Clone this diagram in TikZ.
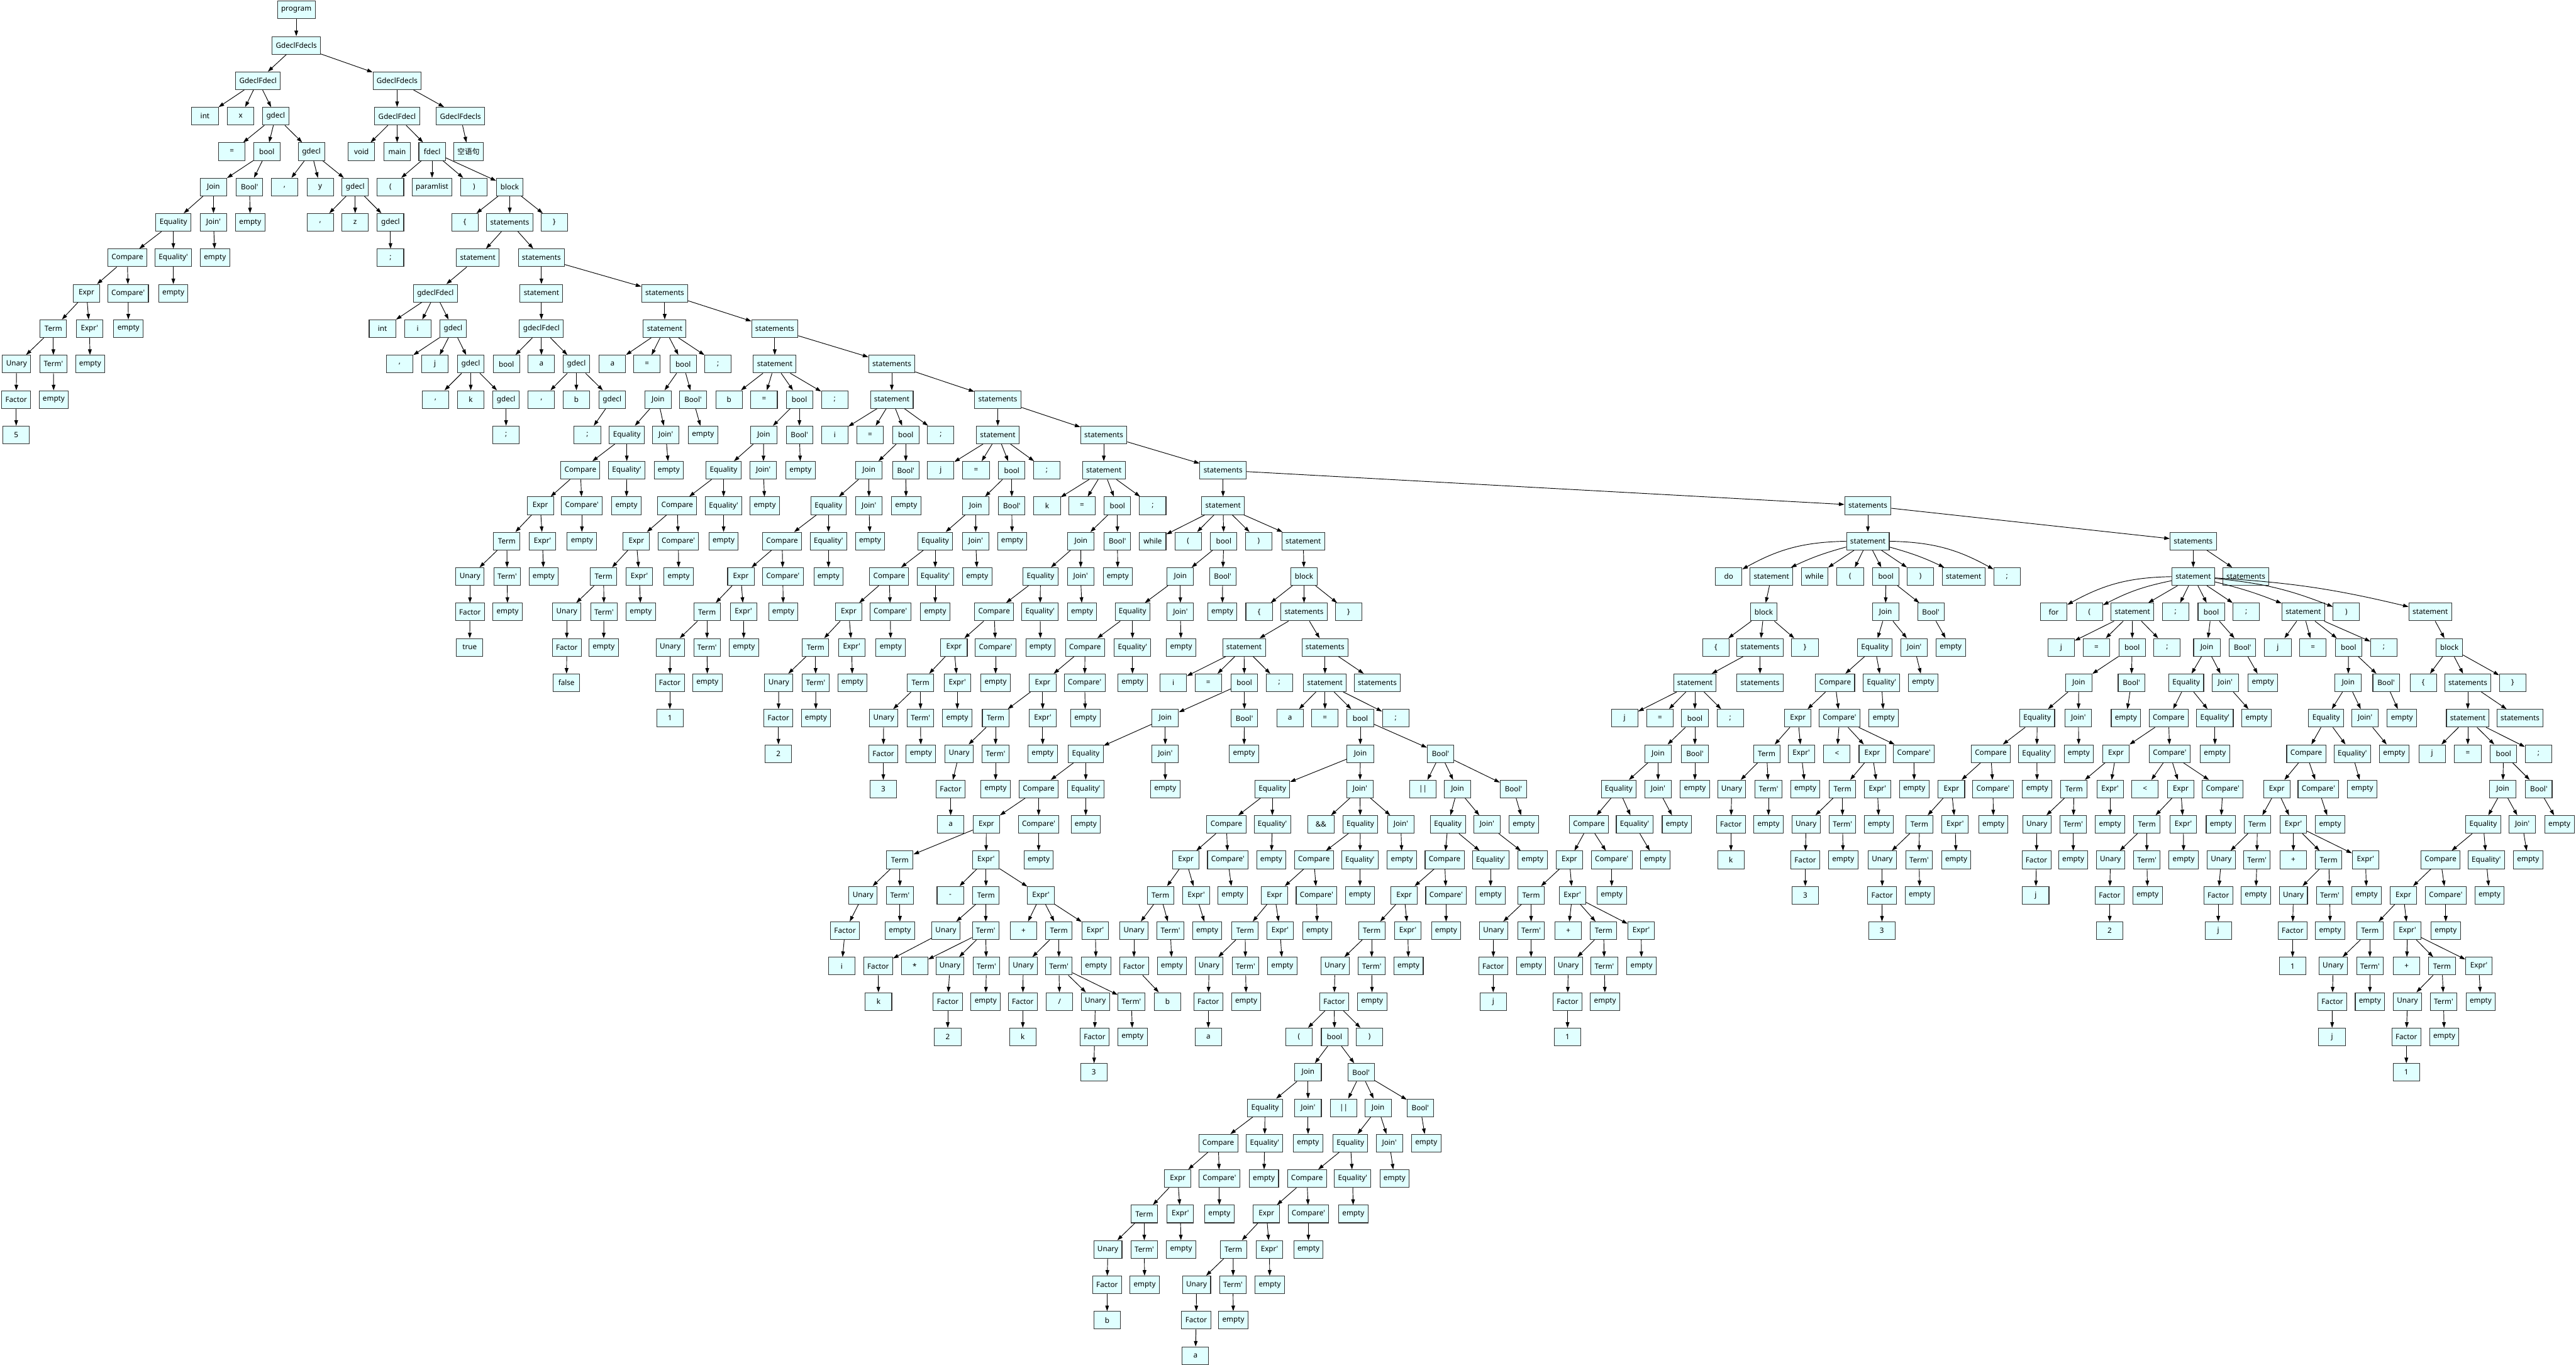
\documentclass[tikz,border=0pt]{standalone}
\usepackage{fontspec}
\setmainfont{Noto Sans}
\newfontfamily\cjk{Noto Sans CJK SC}
\usetikzlibrary{arrows.meta}
\definecolor{boxfill}{RGB}{224,255,255}
\newcommand\aps{\textquotesingle}
\newcommand\TN[5]{\node[nd] (#2) at (#3,#4) {#5};\draw[ed] (#1) -- (#2);}
\newcommand\TB[6]{\node[nd] (#2) at (#3,#4) {#5};\draw[ed] (#1) to[#6] (#2);}
\begin{document}
\begin{tikzpicture}[x=0.5pt,y=-48.1pt,
 nd/.style={draw=black!80,line width=0.9pt,fill=boxfill,minimum width=36pt,minimum height=24pt,inner xsep=5pt,inner ysep=0pt,font=\fontsize{10}{12}\selectfont},
 ed/.style={line width=0.8pt,-{Triangle[length=7.5pt,width=5pt]}}]
\useasboundingbox (0,-0.2807) rectangle (6999,38.254);
% ---------- top ----------
\node[nd] (prog) at (805,0) {program};
\TN{prog}{G1}{805}{1}{GdeclFdecls}
\TN{G1}{D1}{701}{2}{GdeclFdecl}
\TN{G1}{G2}{1079}{2}{GdeclFdecls}
\TN{D1}{D1a}{557}{3}{int}
\TN{D1}{D1b}{654}{3}{x}
\TN{D1}{g1}{749}{3}{gdecl}
\TN{g1}{g1a}{630}{4}{=}
\TN{g1}{b0}{725}{4}{bool}
\TN{g1}{g2}{846}{4}{gdecl}
\TN{b0}{c0J}{580}{5}{Join}
\TN{b0}{c0B}{678}{5}{Bool\aps}
\TN{c0J}{c0Eq}{471}{6}{Equality}
\TN{c0J}{c0Jp}{580}{6}{Join\aps}
\TN{c0B}{c0Be}{680}{6}{empty}
\TN{c0Eq}{c0Cm}{346}{7}{Compare}
\TN{c0Eq}{c0Eqp}{471}{7}{Equality\aps}
\TN{c0Jp}{c0Jpe}{584}{7}{empty}
\TN{c0Cm}{c0Ex}{235}{8}{Expr}
\TN{c0Cm}{c0Cmp}{348}{8}{Compare\aps}
\TN{c0Eqp}{c0Eqpe}{471}{8}{empty}
\TN{c0Ex}{c0Tm}{145}{9}{Term}
\TN{c0Ex}{c0Exp}{243}{9}{Expr\aps}
\TN{c0Cmp}{c0Cmpe}{349}{9}{empty}
\TN{c0Tm}{c0Un}{45}{10}{Unary}
\TN{c0Tm}{c0Tmp}{145}{10}{Term\aps}
\TN{c0Exp}{c0Expe}{245}{10}{empty}
\TN{c0Un}{c0F}{44}{11}{Factor}
\TN{c0Tmp}{c0Tmpe}{146}{11}{empty}
\TN{c0F}{c0v}{44}{12}{5}
\TN{g2}{g2a}{773}{5}{,}
\TN{g2}{g2b}{870}{5}{y}
\TN{g2}{g3}{965}{5}{gdecl}
\TN{g3}{g3a}{870}{6}{,}
\TN{g3}{g3b}{965}{6}{z}
\TN{g3}{g4}{1061}{6}{gdecl}
\TN{g4}{g4a}{1061}{7}{;}
\TN{G2}{D2}{1079}{3}{GdeclFdecl}
\TN{G2}{G3}{1251}{3}{GdeclFdecls}
\TN{D2}{D2a}{982}{4}{void}
\TN{D2}{D2b}{1079}{4}{main}
\TN{D2}{fd}{1174}{4}{fdecl}
\TN{G3}{G3a}{1273}{4}{{\cjk 空语句}}
\TN{fd}{fda}{1061}{5}{(}
\TN{fd}{fdb}{1174}{5}{paramlist}
\TN{fd}{fdc}{1288}{5}{)}
\TN{fd}{blk}{1385}{5}{block}
\TN{blk}{blka}{1263}{6}{\{}
\TN{blk}{S1}{1385}{6}{statements}
\TN{blk}{blkb}{1506}{6}{\}}
\TN{S1}{st1}{1298}{7}{statement}
\TN{S1}{S2}{1471}{7}{statements}
\TN{st1}{D3}{1183}{8}{gdeclFdecl}
\TN{D3}{D3a}{1039}{9}{int}
\TN{D3}{D3b}{1135}{9}{i}
\TN{D3}{g5}{1231}{9}{gdecl}
\TN{g5}{g5a}{1086}{10}{,}
\TN{g5}{g5b}{1182}{10}{j}
\TN{g5}{g6}{1279}{10}{gdecl}
\TN{g6}{g6a}{1183}{11}{,}
\TN{g6}{g6b}{1279}{11}{k}
\TN{g6}{g8}{1375}{11}{gdecl}
\TN{g8}{g8a}{1375}{12}{;}
\TN{S2}{st2}{1471}{8}{statement}
\TN{S2}{S3}{1806}{8}{statements}
\TN{st2}{D4}{1471}{9}{gdeclFdecl}
\TN{D4}{D4a}{1376}{10}{bool}
\TN{D4}{D4b}{1471}{10}{a}
\TN{D4}{g7}{1566}{10}{gdecl}
\TN{g7}{g7a}{1471}{11}{,}
\TN{g7}{g7b}{1566}{11}{b}
\TN{g7}{g9}{1663}{11}{gdecl}
\TN{g9}{g9a}{1596}{12}{;}
% ---------- a = true ----------
\TN{S3}{st3}{1806}{9}{statement}
\TN{S3}{S4}{2105}{9}{statements}
\TN{st3}{s3a}{1664}{10}{a}
\TN{st3}{s3b}{1758}{10}{=}
\TN{st3}{b3}{1856}{10}{bool}
\TN{st3}{s3c}{1951}{10}{;}
\TN{b3}{c3J}{1788}{11}{Join}
\TN{b3}{c3B}{1883}{11}{Bool\aps}
\TN{c3J}{c3Eq}{1703}{12}{Equality}
\TN{c3J}{c3Jp}{1809}{12}{Join\aps}
\TN{c3B}{c3Be}{1910}{12}{empty}
\TN{c3Eq}{c3Cm}{1577}{13}{Compare}
\TN{c3Eq}{c3Eqp}{1703}{13}{Equality\aps}
\TN{c3Jp}{c3Jpe}{1817}{13}{empty}
\TN{c3Cm}{c3Ex}{1468}{14}{Expr}
\TN{c3Cm}{c3Cmp}{1581}{14}{Compare\aps}
\TN{c3Eqp}{c3Eqpe}{1702}{14}{empty}
\TN{c3Ex}{c3Tm}{1377}{15}{Term}
\TN{c3Ex}{c3Exp}{1474}{15}{Expr\aps}
\TN{c3Cmp}{c3Cmpe}{1581}{15}{empty}
\TN{c3Tm}{c3Un}{1277}{16}{Unary}
\TN{c3Tm}{c3Tmp}{1378}{16}{Term\aps}
\TN{c3Exp}{c3Expe}{1477}{16}{empty}
\TN{c3Un}{c3F}{1277}{17}{Factor}
\TN{c3Tmp}{c3Tmpe}{1379}{17}{empty}
\TN{c3F}{c3v}{1276}{18}{true}
% ---------- b = false ----------
\TN{S4}{st4}{2105}{10}{statement}
\TN{S4}{S5}{2423}{10}{statements}
\TN{st4}{s4a}{1981}{11}{b}
\TN{st4}{s4b}{2076}{11}{=}
\TN{st4}{b4}{2172}{11}{bool}
\TN{st4}{s4c}{2268}{11}{;}
\TN{b4}{c4J}{2075}{12}{Join}
\TN{b4}{c4B}{2172}{12}{Bool\aps}
\TN{c4J}{c4Eq}{1966}{13}{Equality}
\TN{c4J}{c4Jp}{2074}{13}{Join\aps}
\TN{c4B}{c4Be}{2175}{13}{empty}
\TN{c4Eq}{c4Cm}{1840}{14}{Compare}
\TN{c4Eq}{c4Eqp}{1966}{14}{Equality\aps}
\TN{c4Jp}{c4Jpe}{2078}{14}{empty}
\TN{c4Cm}{c4Ex}{1729}{15}{Expr}
\TN{c4Cm}{c4Cmp}{1843}{15}{Compare\aps}
\TN{c4Eqp}{c4Eqpe}{1966}{15}{empty}
\TN{c4Ex}{c4Tm}{1640}{16}{Term}
\TN{c4Ex}{c4Exp}{1737}{16}{Expr\aps}
\TN{c4Cmp}{c4Cmpe}{1844}{16}{empty}
\TN{c4Tm}{c4Un}{1540}{17}{Unary}
\TN{c4Tm}{c4Tmp}{1641}{17}{Term\aps}
\TN{c4Exp}{c4Expe}{1741}{17}{empty}
\TN{c4Un}{c4F}{1540}{18}{Factor}
\TN{c4Tmp}{c4Tmpe}{1640}{18}{empty}
\TN{c4F}{c4v}{1539}{19}{false}
% ---------- i = 1 ----------
\TN{S5}{st5}{2423}{11}{statement}
\TN{S5}{S6}{2711}{11}{statements}
\TN{st5}{s5a}{2268}{12}{i}
\TN{st5}{s5b}{2364}{12}{=}
\TN{st5}{b5}{2461}{12}{bool}
\TN{st5}{s5c}{2556}{12}{;}
\TN{b5}{c5J}{2361}{13}{Join}
\TN{b5}{c5B}{2461}{13}{Bool\aps}
\TN{c5J}{c5Eq}{2251}{14}{Equality}
\TN{c5J}{c5Jp}{2361}{14}{Join\aps}
\TN{c5B}{c5Be}{2462}{14}{empty}
\TN{c5Eq}{c5Cm}{2125}{15}{Compare}
\TN{c5Eq}{c5Eqp}{2251}{15}{Equality\aps}
\TN{c5Jp}{c5Jpe}{2364}{15}{empty}
\TN{c5Cm}{c5Ex}{2013}{16}{Expr}
\TN{c5Cm}{c5Cmp}{2127}{16}{Compare\aps}
\TN{c5Eqp}{c5Eqpe}{2251}{16}{empty}
\TN{c5Ex}{c5Tm}{1921}{17}{Term}
\TN{c5Ex}{c5Exp}{2020}{17}{Expr\aps}
\TN{c5Cmp}{c5Cmpe}{2128}{17}{empty}
\TN{c5Tm}{c5Un}{1821}{18}{Unary}
\TN{c5Tm}{c5Tmp}{1921}{18}{Term\aps}
\TN{c5Exp}{c5Expe}{2021}{18}{empty}
\TN{c5Un}{c5F}{1820}{19}{Factor}
\TN{c5Tmp}{c5Tmpe}{1922}{19}{empty}
\TN{c5F}{c5v}{1820}{20}{1}
% ---------- j = 2 ----------
\TN{S6}{st6}{2711}{12}{statement}
\TN{S6}{S7}{2999}{12}{statements}
\TN{st6}{s6a}{2556}{13}{j}
\TN{st6}{s6b}{2652}{13}{=}
\TN{st6}{b6}{2749}{13}{bool}
\TN{st6}{s6c}{2844}{13}{;}
\TN{b6}{c6J}{2651}{14}{Join}
\TN{b6}{c6B}{2749}{14}{Bool\aps}
\TN{c6J}{c6Eq}{2541}{15}{Equality}
\TN{c6J}{c6Jp}{2651}{15}{Join\aps}
\TN{c6B}{c6Be}{2750}{15}{empty}
\TN{c6Eq}{c6Cm}{2416}{16}{Compare}
\TN{c6Eq}{c6Eqp}{2541}{16}{Equality\aps}
\TN{c6Jp}{c6Jpe}{2655}{16}{empty}
\TN{c6Cm}{c6Ex}{2306}{17}{Expr}
\TN{c6Cm}{c6Cmp}{2419}{17}{Compare\aps}
\TN{c6Eqp}{c6Eqpe}{2541}{17}{empty}
\TN{c6Ex}{c6Tm}{2216}{18}{Term}
\TN{c6Ex}{c6Exp}{2314}{18}{Expr\aps}
\TN{c6Cmp}{c6Cmpe}{2420}{18}{empty}
\TN{c6Tm}{c6Un}{2116}{19}{Unary}
\TN{c6Tm}{c6Tmp}{2216}{19}{Term\aps}
\TN{c6Exp}{c6Expe}{2316}{19}{empty}
\TN{c6Un}{c6F}{2115}{20}{Factor}
\TN{c6Tmp}{c6Tmpe}{2217}{20}{empty}
\TN{c6F}{c6v}{2115}{21}{2}
% ---------- k = 3 ----------
\TN{S7}{st7}{2999}{13}{statement}
\TN{S7}{S8}{3323}{13}{statements}
\TN{st7}{s7a}{2845}{14}{k}
\TN{st7}{s7b}{2940}{14}{=}
\TN{st7}{b7}{3036}{14}{bool}
\TN{st7}{s7c}{3132}{14}{;}
\TN{b7}{c7J}{2937}{15}{Join}
\TN{b7}{c7B}{3036}{15}{Bool\aps}
\TN{c7J}{c7Eq}{2827}{16}{Equality}
\TN{c7J}{c7Jp}{2936}{16}{Join\aps}
\TN{c7B}{c7Be}{3037}{16}{empty}
\TN{c7Eq}{c7Cm}{2701}{17}{Compare}
\TN{c7Eq}{c7Eqp}{2826}{17}{Equality\aps}
\TN{c7Jp}{c7Jpe}{2940}{17}{empty}
\TN{c7Cm}{c7Ex}{2592}{18}{Expr}
\TN{c7Cm}{c7Cmp}{2705}{18}{Compare\aps}
\TN{c7Eqp}{c7Eqpe}{2827}{18}{empty}
\TN{c7Ex}{c7Tm}{2501}{19}{Term}
\TN{c7Ex}{c7Exp}{2601}{19}{Expr\aps}
\TN{c7Cmp}{c7Cmpe}{2705}{19}{empty}
\TN{c7Tm}{c7Un}{2401}{20}{Unary}
\TN{c7Tm}{c7Tmp}{2501}{20}{Term\aps}
\TN{c7Exp}{c7Expe}{2601}{20}{empty}
\TN{c7Un}{c7F}{2400}{21}{Factor}
\TN{c7Tmp}{c7Tmpe}{2502}{21}{empty}
\TN{c7F}{c7v}{2400}{22}{3}
% ---------- while ----------
\TN{S8}{st8}{3323}{14}{statement}
\TN{S8}{S12}{5075}{14}{statements}
\TN{st8}{s8a}{3132}{15}{while}
\TN{st8}{s8b}{3228}{15}{(}
\TN{st8}{b8}{3325}{15}{bool}
\TN{st8}{s8c}{3420}{15}{)}
\TN{st8}{st9}{3541}{15}{statement}
\TN{b8}{c8J}{3207}{16}{Join}
\TN{b8}{c8B}{3322}{16}{Bool\aps}
\TN{c8J}{c8Eq}{3077}{17}{Equality}
\TN{c8J}{c8Jp}{3207}{17}{Join\aps}
\TN{c8B}{c8Be}{3321}{17}{empty}
\TN{c8Eq}{c8Cm}{2948}{18}{Compare}
\TN{c8Eq}{c8Eqp}{3077}{18}{Equality\aps}
\TN{c8Jp}{c8Jpe}{3209}{18}{empty}
\TN{c8Cm}{c8Ex}{2833}{19}{Expr}
\TN{c8Cm}{c8Cmp}{2947}{19}{Compare\aps}
\TN{c8Eqp}{c8Eqpe}{3077}{19}{empty}
\TN{c8Ex}{c8Tm}{2705}{20}{Term}
\TN{c8Ex}{c8Exp}{2833}{20}{Expr\aps}
\TN{c8Cmp}{c8Cmpe}{2949}{20}{empty}
\TN{c8Tm}{c8Un}{2606}{21}{Unary}
\TN{c8Tm}{c8Tmp}{2705}{21}{Term\aps}
\TN{c8Exp}{c8Expe}{2833}{21}{empty}
\TN{c8Un}{c8F}{2583}{22}{Factor}
\TN{c8Tmp}{c8Tmpe}{2705}{22}{empty}
\TN{c8F}{c8v}{2583}{23}{a}
\TN{st9}{blk2}{3543}{16}{block}
\TN{blk2}{blk2a}{3421}{17}{\{}
\TN{blk2}{S9}{3543}{17}{statements}
\TN{blk2}{blk2b}{3664}{17}{\}}
\TN{S9}{st10}{3380}{18}{statement}
\TN{S9}{S10}{3600}{18}{statements}
\TN{S10}{st11}{3600}{19}{statement}
\TN{S10}{S11}{3742}{19}{statements}
% ---------- i = i - k*2 + k/3 ----------
\TN{st10}{s10a}{3188}{19}{i}
\TN{st10}{s10b}{3283}{19}{=}
\TN{st10}{b9}{3381}{19}{bool}
\TN{st10}{s10c}{3476}{19}{;}
\TN{b9}{c9J}{3166}{20}{Join}
\TN{b9}{c9B}{3381}{20}{Bool\aps}
\TN{c9J}{c9Eq}{2950}{21}{Equality}
\TN{c9J}{c9Jp}{3166}{21}{Join\aps}
\TN{c9B}{c9Be}{3380}{21}{empty}
\TN{c9Eq}{c9Cm}{2822}{22}{Compare}
\TN{c9Eq}{c9Eqp}{2950}{22}{Equality\aps}
\TN{c9Jp}{c9Jpe}{3166}{22}{empty}
\TN{c9Cm}{c9Ex}{2680}{23}{Expr}
\TN{c9Cm}{c9Cmp}{2822}{23}{Compare\aps}
\TN{c9Eqp}{c9Eqpe}{2950}{23}{empty}
\TN{c9Ex}{c9Tm}{2445}{24}{Term}
\TN{c9Ex}{c9Exp}{2679}{24}{Expr\aps}
\TN{c9Cmp}{c9Cmpe}{2822}{24}{empty}
\TN{c9Tm}{c9Un}{2345}{25}{Unary}
\TN{c9Tm}{c9Tmp}{2445}{25}{Term\aps}
\TN{c9Exp}{c9mi}{2582}{25}{-}
\TN{c9Exp}{c9Tm2}{2679}{25}{Term}
\TN{c9Exp}{c9Exp2}{2828}{25}{Expr\aps}
\TN{c9Un}{c9F}{2296}{26}{Factor}
\TN{c9Tmp}{c9Tmpe}{2445}{26}{empty}
\TN{c9Tm2}{c9Un2}{2570}{26}{Unary}
\TN{c9Tm2}{c9Tmp2}{2678}{26}{Term\aps}
\TN{c9Exp2}{c9pl}{2781}{26}{+}
\TN{c9Exp2}{c9Tm3}{2877}{26}{Term}
\TN{c9Exp2}{c9Exp3}{2976}{26}{Expr\aps}
\TN{c9F}{c9v}{2287}{27}{i}
\TN{c9Un2}{c9F2}{2386}{27}{Factor}
\TN{c9Tmp2}{c9st}{2485}{27}{*}
\TN{c9Tmp2}{c9Un3}{2581}{27}{Unary}
\TN{c9Tmp2}{c9Tmp3}{2680}{27}{Term\aps}
\TN{c9Tm3}{c9Un4}{2780}{27}{Unary}
\TN{c9Tm3}{c9Tmp4}{2877}{27}{Term\aps}
\TN{c9Exp3}{c9Exp3e}{2978}{27}{empty}
\TN{c9F2}{c9v2}{2387}{28}{k}
\TN{c9Un3}{c9F3}{2575}{28}{Factor}
\TN{c9Tmp3}{c9Tmp3e}{2678}{28}{empty}
\TN{c9Un4}{c9F4}{2779}{28}{Factor}
\TN{c9Tmp4}{c9sl}{2879}{28}{/}
\TN{c9Tmp4}{c9Un5}{2976}{28}{Unary}
\TN{c9Tmp4}{c9Tmp5}{3074}{28}{Term\aps}
\TN{c9F3}{c9v3}{2575}{29}{2}
\TN{c9F4}{c9v4}{2779}{29}{k}
\TN{c9Un5}{c9F5}{2974}{29}{Factor}
\TN{c9Tmp5}{c9Tmp5e}{3077}{29}{empty}
\TN{c9F5}{c9v5}{2972}{30}{3}
% ---------- a = b && a || (b || a) ----------
\TN{st11}{s11a}{3505}{20}{a}
\TN{st11}{s11b}{3600}{20}{=}
\TN{st11}{b10}{3696}{20}{bool}
\TN{st11}{s11c}{3792}{20}{;}
\TN{b10}{t0J}{3696}{21}{Join}
\TN{b10}{t0B}{3914}{21}{Bool\aps}
\TN{t0J}{t0Eq}{3457}{22}{Equality}
\TN{t0J}{t0Jp}{3695}{22}{Join\aps}
\TN{t0B}{t0or}{3866}{22}{||}
\TN{t0B}{t0J2}{3960}{22}{Join}
\TN{t0B}{t0B2}{4112}{22}{Bool\aps}
\TN{t0Eq}{t0Cm}{3332}{23}{Compare}
\TN{t0Eq}{t0Eqp}{3457}{23}{Equality\aps}
\TN{t0Jp}{t0and}{3589}{23}{\&\&}
\TN{t0Jp}{t0Eq2}{3696}{23}{Equality}
\TN{t0Jp}{t0Jp2}{3806}{23}{Join\aps}
\TN{t0J2}{t0Eq3}{3934}{23}{Equality}
\TN{t0J2}{t0Jp3}{4040}{23}{Join\aps}
\TN{t0B2}{t0B2e}{4140}{23}{empty}
\TN{t0Cm}{t0Ex}{3222}{24}{Expr}
\TN{t0Cm}{t0Cmp}{3336}{24}{Compare\aps}
\TN{t0Eqp}{t0Eqpe}{3454}{24}{empty}
\TN{t0Eq2}{t0Cm2}{3570}{24}{Compare}
\TN{t0Eq2}{t0Eqp2}{3695}{24}{Equality\aps}
\TN{t0Jp2}{t0Jp2e}{3809}{24}{empty}
\TN{t0Eq3}{t0Cm3}{3925}{24}{Compare}
\TN{t0Eq3}{t0Eqp3}{4050}{24}{Equality\aps}
\TN{t0Jp3}{t0Jp3e}{4164}{24}{empty}
\TN{t0Ex}{t0Tm}{3153}{25}{Term}
\TN{t0Ex}{t0Exp}{3250}{25}{Expr\aps}
\TN{t0Cmp}{t0Cmpe}{3349}{25}{empty}
\TN{t0Cm2}{t0Ex2}{3463}{25}{Expr}
\TN{t0Cm2}{t0Cmp2}{3577}{25}{Compare\aps}
\TN{t0Eqp2}{t0Eqp2e}{3695}{25}{empty}
\TN{t0Cm3}{t0Ex3}{3815}{25}{Expr}
\TN{t0Cm3}{t0Cmp3}{3929}{25}{Compare\aps}
\TN{t0Eqp3}{t0Eqp3e}{4050}{25}{empty}
\TN{t0Tm}{t0Un}{3081}{26}{Unary}
\TN{t0Tm}{t0Tmp}{3180}{26}{Term\aps}
\TN{t0Exp}{t0Expe}{3280}{26}{empty}
\TN{t0Ex2}{t0Tm2}{3383}{26}{Term}
\TN{t0Ex2}{t0Exp2}{3478}{26}{Expr\aps}
\TN{t0Cmp2}{t0Cmp2e}{3579}{26}{empty}
\TN{t0Ex3}{t0Tm3}{3727}{26}{Term}
\TN{t0Ex3}{t0Exp3}{3825}{26}{Expr\aps}
\TN{t0Cmp3}{t0Cmp3e}{3929}{26}{empty}
\TN{t0Un}{t0F}{3081}{27}{Factor}
\TN{t0Tmp}{t0Tmpe}{3184}{27}{empty}
\TN{t0Tm2}{t0Un2}{3285}{27}{Unary}
\TN{t0Tm2}{t0Tmp2}{3384}{27}{Term\aps}
\TN{t0Exp2}{t0Exp2e}{3484}{27}{empty}
\TN{t0Tm3}{t0Un3}{3627}{27}{Unary}
\TN{t0Tm3}{t0Tmp3}{3727}{27}{Term\aps}
\TN{t0Exp3}{t0Exp3e}{3827}{27}{empty}
\TN{t0F}{t0v}{3172}{28}{b}
\TN{t0Un2}{t0F2}{3283}{28}{Factor}
\TN{t0Tmp2}{t0Tmp2e}{3386}{28}{empty}
\TN{t0Un3}{t0F3}{3625}{28}{Factor}
\TN{t0Tmp3}{t0Tmp3e}{3728}{28}{empty}
\TN{t0F2}{t0v2}{3283}{29}{a}
\TN{t0F3}{t0lp}{3529}{29}{(}
\TN{t0F3}{bb}{3626}{29}{bool}
\TN{t0F3}{t0rp}{3721}{29}{)}
\TN{bb}{u0J}{3554}{30}{Join}
\TN{bb}{u0B}{3698}{30}{Bool\aps}
\TN{u0J}{u0Eq}{3437}{31}{Equality}
\TN{u0J}{u0Jp}{3554}{31}{Join\aps}
\TN{u0B}{u0or}{3651}{31}{||}
\TN{u0B}{u0J2}{3744}{31}{Join}
\TN{u0B}{u0B2}{3859}{31}{Bool\aps}
\TN{u0Eq}{u0Cm}{3310}{32}{Compare}
\TN{u0Eq}{u0Eqp}{3436}{32}{Equality\aps}
\TN{u0Jp}{u0Jpe}{3554}{32}{empty}
\TN{u0J2}{u0Eq2}{3669}{32}{Equality}
\TN{u0J2}{u0Jp2}{3775}{32}{Join\aps}
\TN{u0B2}{u0B2e}{3875}{32}{empty}
\TN{u0Cm}{u0Ex}{3200}{33}{Expr}
\TN{u0Cm}{u0Cmp}{3313}{33}{Compare\aps}
\TN{u0Eqp}{u0Eqpe}{3434}{33}{empty}
\TN{u0Eq2}{u0Cm2}{3551}{33}{Compare}
\TN{u0Eq2}{u0Eqp2}{3675}{33}{Equality\aps}
\TN{u0Jp2}{u0Jp2e}{3789}{33}{empty}
\TN{u0Ex}{u0Tm}{3109}{34}{Term}
\TN{u0Ex}{u0Exp}{3207}{34}{Expr\aps}
\TN{u0Cmp}{u0Cmpe}{3313}{34}{empty}
\TN{u0Cm2}{u0Ex2}{3441}{34}{Expr}
\TN{u0Cm2}{u0Cmp2}{3555}{34}{Compare\aps}
\TN{u0Eqp2}{u0Eqp2e}{3677}{34}{empty}
\TN{u0Tm}{u0Un}{3010}{35}{Unary}
\TN{u0Tm}{u0Tmp}{3109}{35}{Term\aps}
\TN{u0Exp}{u0Expe}{3209}{35}{empty}
\TN{u0Ex2}{u0Tm2}{3351}{35}{Term}
\TN{u0Ex2}{u0Exp2}{3449}{35}{Expr\aps}
\TN{u0Cmp2}{u0Cmp2e}{3555}{35}{empty}
\TN{u0Un}{u0F}{3008}{36}{Factor}
\TN{u0Tmp}{u0Tmpe}{3110}{36}{empty}
\TN{u0Tm2}{u0Un2}{3251}{36}{Unary}
\TN{u0Tm2}{u0Tmp2}{3350}{36}{Term\aps}
\TN{u0Exp2}{u0Exp2e}{3450}{36}{empty}
\TN{u0F}{u0v}{3008}{37}{b}
\TN{u0Un2}{u0F2}{3250}{37}{Factor}
\TN{u0Tmp2}{u0Tmp2e}{3351}{37}{empty}
\TN{u0F2}{u0v2}{3248}{38}{a}
% ---------- do ... while ----------
\TN{S12}{st12}{5075}{15}{statement}
\TN{S12}{S13}{5959}{15}{statements}
\TB{st12}{s12a}{4697}{16}{do}{bend right=14}
\TB{st12}{st13}{4813}{16}{statement}{bend right=5}
\TN{st12}{s12b}{4930}{16}{while}
\TN{st12}{s12c}{5027}{16}{(}
\TN{st12}{b11}{5124}{16}{bool}
\TN{st12}{s12d}{5218}{16}{)}
\TB{st12}{s12e}{5335}{16}{statement}{bend left=5}
\TB{st12}{s12f}{5453}{16}{;}{bend left=14}
\TN{st13}{blk3}{4792}{17}{block}
\TN{blk3}{blk3a}{4662}{18}{\{}
\TN{blk3}{S14}{4782}{18}{statements}
\TN{blk3}{blk3b}{4904}{18}{\}}
\TN{S14}{st14}{4605}{19}{statement}
\TN{S14}{S14b}{4782}{19}{statements}
\TN{st14}{s14a}{4414}{20}{j}
\TN{st14}{s14b}{4510}{20}{=}
\TN{st14}{b12}{4605}{20}{bool}
\TN{st14}{s14c}{4701}{20}{;}
\TN{b12}{d2J}{4505}{21}{Join}
\TN{b12}{d2B}{4605}{21}{Bool\aps}
\TN{d2J}{d2Eq}{4398}{22}{Equality}
\TN{d2J}{d2Jp}{4505}{22}{Join\aps}
\TN{d2B}{d2Be}{4605}{22}{empty}
\TN{d2Eq}{d2Cm}{4317}{23}{Compare}
\TN{d2Eq}{d2Eqp}{4441}{23}{Equality\aps}
\TN{d2Jp}{d2Jpe}{4556}{23}{empty}
\TN{d2Cm}{d2Ex}{4264}{24}{Expr}
\TN{d2Cm}{d2Cmp}{4379}{24}{Compare\aps}
\TN{d2Eqp}{d2Eqpe}{4497}{24}{empty}
\TN{d2Ex}{d2Tm}{4160}{25}{Term}
\TN{d2Ex}{d2Exp}{4272}{25}{Expr\aps}
\TN{d2Cmp}{d2Cmpe}{4379}{25}{empty}
\TN{d2Tm}{d2Un}{4058}{26}{Unary}
\TN{d2Tm}{d2Tmp}{4160}{26}{Term\aps}
\TN{d2Exp}{d2pl}{4261}{26}{+}
\TN{d2Exp}{d2Tm2}{4357}{26}{Term}
\TN{d2Exp}{d2Exp2}{4459}{26}{Expr\aps}
\TN{d2Un}{d2F}{4057}{27}{Factor}
\TN{d2Tmp}{d2Tmpe}{4160}{27}{empty}
\TN{d2Tm2}{d2Un2}{4261}{27}{Unary}
\TN{d2Tm2}{d2Tmp2}{4359}{27}{Term\aps}
\TN{d2Exp2}{d2Exp2e}{4460}{27}{empty}
\TN{d2F}{d2v}{4057}{28}{j}
\TN{d2Un2}{d2F2}{4259}{28}{Factor}
\TN{d2Tmp2}{d2Tmp2e}{4361}{28}{empty}
\TN{d2F2}{d2v2}{4259}{29}{1}
\TN{b11}{d1J}{5123}{17}{Join}
\TN{b11}{d1B}{5246}{17}{Bool\aps}
\TN{d1J}{d1Eq}{5094}{18}{Equality}
\TN{d1J}{d1Jp}{5201}{18}{Join\aps}
\TN{d1B}{d1Be}{5300}{18}{empty}
\TN{d1Eq}{d1Cm}{4986}{19}{Compare}
\TN{d1Eq}{d1Eqp}{5112}{19}{Equality\aps}
\TN{d1Jp}{d1Jpe}{5225}{19}{empty}
\TN{d1Cm}{d1Ex}{4885}{20}{Expr}
\TN{d1Cm}{d1Cmp}{4998}{20}{Compare\aps}
\TN{d1Eqp}{d1Eqpe}{5118}{20}{empty}
\TN{d1Ex}{d1Tm}{4800}{21}{Term}
\TN{d1Ex}{d1Exp}{4894}{21}{Expr\aps}
\TN{d1Cmp}{d1lt}{4991}{21}{<}
\TN{d1Cmp}{d1Ex2}{5087}{21}{Expr}
\TN{d1Cmp}{d1Cmp2}{5200}{21}{Compare\aps}
\TN{d1Tm}{d1Un}{4705}{22}{Unary}
\TN{d1Tm}{d1Tmp}{4805}{22}{Term\aps}
\TN{d1Exp}{d1Expe}{4905}{22}{empty}
\TN{d1Ex2}{d1Tm2}{5006}{22}{Term}
\TN{d1Ex2}{d1Exp2}{5101}{22}{Expr\aps}
\TN{d1Cmp2}{d1Cmp2e}{5201}{22}{empty}
\TN{d1Un}{d1F}{4703}{23}{Factor}
\TN{d1Tmp}{d1Tmpe}{4805}{23}{empty}
\TN{d1Tm2}{d1Un2}{4907}{23}{Unary}
\TN{d1Tm2}{d1Tmp2}{5006}{23}{Term\aps}
\TN{d1Exp2}{d1Exp2e}{5105}{23}{empty}
\TN{d1F}{d1v}{4703}{24}{k}
\TN{d1Un2}{d1F2}{4905}{24}{Factor}
\TN{d1Tmp2}{d1Tmp2e}{5008}{24}{empty}
\TN{d1F2}{d1v2}{4905}{25}{3}
% ---------- for ----------
\TN{S13}{st15}{5959}{16}{statement}
\TN{S13}{S13b}{6102}{16}{statements}
\TB{st15}{s15a}{5580}{17}{for}{bend right=14}
\TB{st15}{s15b}{5677}{17}{(}{bend right=8}
\TN{st15}{st16}{5794}{17}{statement}
\TN{st15}{s15c}{5911}{17}{;}
\TN{st15}{b13}{6008}{17}{bool}
\TN{st15}{s15d}{6103}{17}{;}
\TB{st15}{st17}{6258}{17}{statement}{bend left=4}
\TB{st15}{s15e}{6375}{17}{)}{bend left=8}
\TB{st15}{st18}{6603}{17}{statement}{bend left=5}
\TN{st16}{s16a}{5600}{18}{j}
\TN{st16}{s16b}{5696}{18}{=}
\TN{st16}{b14}{5793}{18}{bool}
\TN{st16}{s16c}{5888}{18}{;}
\TN{b14}{d4J}{5648}{19}{Join}
\TN{b14}{d4B}{5791}{19}{Bool\aps}
\TN{d4J}{d4Eq}{5535}{20}{Equality}
\TN{d4J}{d4Jp}{5647}{20}{Join\aps}
\TN{d4B}{d4Be}{5776}{20}{empty}
\TN{d4Eq}{d4Cm}{5409}{21}{Compare}
\TN{d4Eq}{d4Eqp}{5534}{21}{Equality\aps}
\TN{d4Jp}{d4Jpe}{5648}{21}{empty}
\TN{d4Cm}{d4Ex}{5302}{22}{Expr}
\TN{d4Cm}{d4Cmp}{5415}{22}{Compare\aps}
\TN{d4Eqp}{d4Eqpe}{5535}{22}{empty}
\TN{d4Ex}{d4Tm}{5215}{23}{Term}
\TN{d4Ex}{d4Exp}{5312}{23}{Expr\aps}
\TN{d4Cmp}{d4Cmpe}{5416}{23}{empty}
\TN{d4Tm}{d4Un}{5114}{24}{Unary}
\TN{d4Tm}{d4Tmp}{5214}{24}{Term\aps}
\TN{d4Exp}{d4Expe}{5315}{24}{empty}
\TN{d4Un}{d4F}{5114}{25}{Factor}
\TN{d4Tmp}{d4Tmpe}{5216}{25}{empty}
\TN{d4F}{d4v}{5113}{26}{3}
\TN{b13}{d3J}{5996}{18}{Join}
\TN{b13}{d3B}{6093}{18}{Bool\aps}
\TN{d3J}{d3Eq}{5940}{19}{Equality}
\TN{d3J}{d3Jp}{6046}{19}{Join\aps}
\TN{d3B}{d3Be}{6148}{19}{empty}
\TN{d3Eq}{d3Cm}{5892}{20}{Compare}
\TN{d3Eq}{d3Eqp}{6018}{20}{Equality\aps}
\TN{d3Jp}{d3Jpe}{6131}{20}{empty}
\TN{d3Cm}{d3Ex}{5749}{21}{Expr}
\TN{d3Cm}{d3Cmp}{5895}{21}{Compare\aps}
\TN{d3Eqp}{d3Eqpe}{6018}{21}{empty}
\TN{d3Ex}{d3Tm}{5635}{22}{Term}
\TN{d3Ex}{d3Exp}{5733}{22}{Expr\aps}
\TN{d3Cmp}{d3lt}{5828}{22}{<}
\TN{d3Cmp}{d3Ex2}{5925}{22}{Expr}
\TN{d3Cmp}{d3Cmp2}{6039}{22}{Compare\aps}
\TN{d3Tm}{d3Un}{5534}{23}{Unary}
\TN{d3Tm}{d3Tmp}{5633}{23}{Term\aps}
\TN{d3Exp}{d3Expe}{5733}{23}{empty}
\TN{d3Ex2}{d3Tm2}{5833}{23}{Term}
\TN{d3Ex2}{d3Exp2}{5932}{23}{Expr\aps}
\TN{d3Cmp2}{d3Cmp2e}{6034}{23}{empty}
\TN{d3Un}{d3F}{5533}{24}{Factor}
\TN{d3Tmp}{d3Tmpe}{5633}{24}{empty}
\TN{d3Tm2}{d3Un2}{5734}{24}{Unary}
\TN{d3Tm2}{d3Tmp2}{5833}{24}{Term\aps}
\TN{d3Exp2}{d3Exp2e}{5933}{24}{empty}
\TN{d3F}{d3v}{5531}{25}{j}
\TN{d3Un2}{d3F2}{5732}{25}{Factor}
\TN{d3Tmp2}{d3Tmp2e}{5835}{25}{empty}
\TN{d3F2}{d3v2}{5732}{26}{2}
\TN{st17}{s17a}{6189}{18}{j}
\TN{st17}{s17b}{6284}{18}{=}
\TN{st17}{b15}{6381}{18}{bool}
\TN{st17}{s17c}{6477}{18}{;}
\TN{b15}{d5J}{6380}{19}{Join}
\TN{b15}{d5B}{6483}{19}{Bool\aps}
\TN{d5J}{d5Eq}{6320}{20}{Equality}
\TN{d5J}{d5Jp}{6426}{20}{Join\aps}
\TN{d5B}{d5Be}{6526}{20}{empty}
\TN{d5Eq}{d5Cm}{6266}{21}{Compare}
\TN{d5Eq}{d5Eqp}{6391}{21}{Equality\aps}
\TN{d5Jp}{d5Jpe}{6505}{21}{empty}
\TN{d5Cm}{d5Ex}{6186}{22}{Expr}
\TN{d5Cm}{d5Cmp}{6299}{22}{Compare\aps}
\TN{d5Eqp}{d5Eqpe}{6418}{22}{empty}
\TN{d5Ex}{d5Tm}{6133}{23}{Term}
\TN{d5Ex}{d5Exp}{6231}{23}{Expr\aps}
\TN{d5Cmp}{d5Cmpe}{6331}{23}{empty}
\TN{d5Tm}{d5Un}{6035}{24}{Unary}
\TN{d5Tm}{d5Tmp}{6132}{24}{Term\aps}
\TN{d5Exp}{d5pl}{6231}{24}{+}
\TN{d5Exp}{d5Tm2}{6327}{24}{Term}
\TN{d5Exp}{d5Exp2}{6427}{24}{Expr\aps}
\TN{d5Un}{d5F}{6027}{25}{Factor}
\TN{d5Tmp}{d5Tmpe}{6129}{25}{empty}
\TN{d5Tm2}{d5Un2}{6231}{25}{Unary}
\TN{d5Tm2}{d5Tmp2}{6330}{25}{Term\aps}
\TN{d5Exp2}{d5Exp2e}{6430}{25}{empty}
\TN{d5F}{d5v}{6027}{26}{j}
\TN{d5Un2}{d5F2}{6229}{26}{Factor}
\TN{d5Tmp2}{d5Tmp2e}{6331}{26}{empty}
\TN{d5F2}{d5v2}{6229}{27}{1}
\TN{st18}{blk4}{6655}{18}{block}
\TN{blk4}{blk4a}{6584}{19}{\{}
\TN{blk4}{S15}{6705}{19}{statements}
\TN{blk4}{blk4b}{6827}{19}{\}}
\TN{S15}{st19}{6705}{20}{statement}
\TN{S15}{S15b}{6847}{20}{statements}
\TN{st19}{s19a}{6608}{21}{j}
\TN{st19}{s19b}{6705}{21}{=}
\TN{st19}{b16}{6802}{21}{bool}
\TN{st19}{s19c}{6897}{21}{;}
\TN{b16}{d6J}{6800}{22}{Join}
\TN{b16}{d6B}{6898}{22}{Bool\aps}
\TN{d6J}{d6Eq}{6747}{23}{Equality}
\TN{d6J}{d6Jp}{6853}{23}{Join\aps}
\TN{d6B}{d6Be}{6954}{23}{empty}
\TN{d6Eq}{d6Cm}{6631}{24}{Compare}
\TN{d6Eq}{d6Eqp}{6755}{24}{Equality\aps}
\TN{d6Jp}{d6Jpe}{6869}{24}{empty}
\TN{d6Cm}{d6Ex}{6530}{25}{Expr}
\TN{d6Cm}{d6Cmp}{6645}{25}{Compare\aps}
\TN{d6Eqp}{d6Eqpe}{6764}{25}{empty}
\TN{d6Ex}{d6Tm}{6439}{26}{Term}
\TN{d6Ex}{d6Exp}{6541}{26}{Expr\aps}
\TN{d6Cmp}{d6Cmpe}{6645}{26}{empty}
\TN{d6Tm}{d6Un}{6339}{27}{Unary}
\TN{d6Tm}{d6Tmp}{6439}{27}{Term\aps}
\TN{d6Exp}{d6pl}{6539}{27}{+}
\TN{d6Exp}{d6Tm2}{6635}{27}{Term}
\TN{d6Exp}{d6Exp2}{6735}{27}{Expr\aps}
\TN{d6Un}{d6F}{6337}{28}{Factor}
\TN{d6Tmp}{d6Tmpe}{6439}{28}{empty}
\TN{d6Tm2}{d6Un2}{6541}{28}{Unary}
\TN{d6Tm2}{d6Tmp2}{6639}{28}{Term\aps}
\TN{d6Exp2}{d6Exp2e}{6740}{28}{empty}
\TN{d6F}{d6v}{6336}{29}{j}
\TN{d6Un2}{d6F2}{6538}{29}{Factor}
\TN{d6Tmp2}{d6Tmp2e}{6641}{29}{empty}
\TN{d6F2}{d6v2}{6538}{30}{1}
\end{tikzpicture}
\end{document}
